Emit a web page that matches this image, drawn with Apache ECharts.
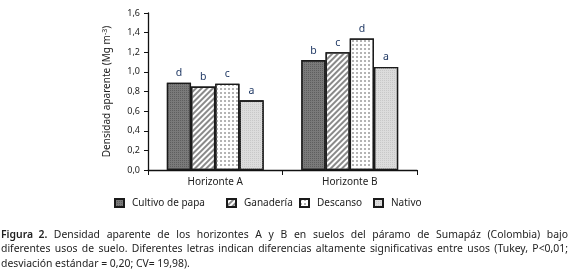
<!DOCTYPE html>
<html>
<head>
<meta charset="utf-8">
<script src="https://cdn.jsdelivr.net/npm/echarts@6/dist/echarts.min.js"></script>
<style>
html, body { margin: 0; padding: 0; background: #fff; }
#chart { width: 570px; height: 272px; }
</style>
</head>
<body>
<div id="chart"></div>
<script>
var categories = ['Horizonte A', 'Horizonte B'];
var seriesNames = ['Cultivo de papa', 'Ganadería', 'Descanso', 'Nativo'];
var papa = [0.89, 1.12];
var ganaderia = [0.85, 1.20];
var descanso = [0.88, 1.34];
var nativo = [0.71, 1.05];
var letters = [['d', 'b'], ['b', 'c'], ['c', 'd'], ['a', 'a']];
var captionLines = [
    'Figura 2. Densidad aparente de los horizontes A y B en suelos del páramo de Sumapáz (Colombia) bajo',
    'diferentes usos de suelo. Diferentes letras indican diferencias altamente significativas entre usos (Tukey, P<0,01;',
    'desviación estándar = 0,20; CV= 19,98).'
];

var values = [papa, ganaderia, descanso, nativo];
var fills = ['#7a7a7a', '#ffffff', '#ffffff', '#dcdcdc'];
var decals = [
    { symbol: 'rect', color: '#5e5e5e', dashArrayX: [1, 1], dashArrayY: [1, 1], symbolSize: 1 },
    { symbol: 'rect', color: '#8a8a8a', dashArrayX: [1, 0], dashArrayY: [2, 2], rotation: -Math.PI / 4, symbolSize: 1 },
    { symbol: 'rect', color: '#b4b4b4', dashArrayX: [2, 2], dashArrayY: [2, 2], symbolSize: 1 },
    { symbol: 'rect', color: '#c8c8c8', dashArrayX: [1, 1], dashArrayY: [1, 1], symbolSize: 1 }
];
var legendLeft = [114, 226, 299, 373];
var capFont = '10.4px "Noto Sans"';

var chart = echarts.init(document.getElementById('chart'), null, { renderer: 'canvas' });

// caption laid out as justified text
var ctx = document.createElement('canvas').getContext('2d');
ctx.font = capFont;
var graphics = [];
var capLeft = 1, capRight = 568, capTop = 230, capStep = 14.5;
captionLines.forEach(function (line, li) {
    var words = line.split(' ');
    var y = capTop + li * capStep;
    var justify = li < captionLines.length - 1;
    var total = 0;
    words.forEach(function (w) { total += ctx.measureText(w).width; });
    var gap = justify ? (capRight - capLeft - total) / (words.length - 1) : ctx.measureText(' ').width;
    var x = capLeft;
    words.forEach(function (w, wi) {
        var bold = li === 0 && wi < 2;
        graphics.push({
            type: 'text', left: x, top: y,
            style: { text: w, font: (bold ? '600 ' : '') + capFont, fill: '#222' }
        });
        x += ctx.measureText(w).width + gap;
    });
});

var series = seriesNames.map(function (name, i) {
    return {
        name: name,
        type: 'bar',
        data: values[i],
        barGap: 0,
        barCategoryGap: '28%',
        itemStyle: { color: fills[i], borderColor: '#1a1a1a', borderWidth: 1.3, decal: decals[i] },
        label: {
            show: true,
            position: 'top',
            distance: 4,
            color: '#1f3864',
            fontSize: 10.5,
            fontFamily: 'Noto Sans',
            formatter: function (p) { return letters[i][p.dataIndex]; }
        },
        emphasis: { disabled: true }
    };
});

var legends = seriesNames.map(function (name, i) {
    return {
        top: 198,
        left: legendLeft[i],
        itemWidth: 9,
        itemHeight: 8,
        icon: 'rect',
        padding: 0,
        textStyle: { fontSize: 10, fontFamily: 'Noto Sans', color: '#222', padding: [0, 0, 0, 3] },
        data: [name]
    };
});

var option = {
    animation: false,
    backgroundColor: '#fff',
    grid: { left: 148, right: 153, top: 13, bottom: 102, containLabel: false },
    legend: legends,
    xAxis: {
        type: 'category',
        data: categories,
        axisLine: { lineStyle: { color: '#111', width: 1.3 } },
        axisTick: { show: true, length: 5, lineStyle: { color: '#111' } },
        axisLabel: { fontSize: 10, fontFamily: 'Noto Sans', color: '#222', margin: 7 }
    },
    yAxis: {
        type: 'value',
        min: 0,
        max: 1.6,
        interval: 0.2,
        name: 'Densidad aparente (Mg m{sup|-3})',
        nameLocation: 'middle',
        nameGap: 34,
        nameTextStyle: {
            fontSize: 10, fontFamily: 'Noto Sans', color: '#222',
            rich: { sup: { fontSize: 7, verticalAlign: 'top', padding: [0, 0, 6, 0], fontFamily: 'Noto Sans', color: '#222' } }
        },
        splitLine: { show: false },
        axisLine: { show: true, lineStyle: { color: '#111', width: 1.3 } },
        axisTick: { show: true, length: 4, lineStyle: { color: '#111' } },
        axisLabel: {
            fontSize: 9, fontFamily: 'Noto Sans', color: '#222', margin: 8,
            formatter: function (v) { return v.toFixed(1).replace('.', ','); }
        }
    },
    series: series,
    graphic: graphics
};
chart.setOption(option);
</script>
</body>
</html>
